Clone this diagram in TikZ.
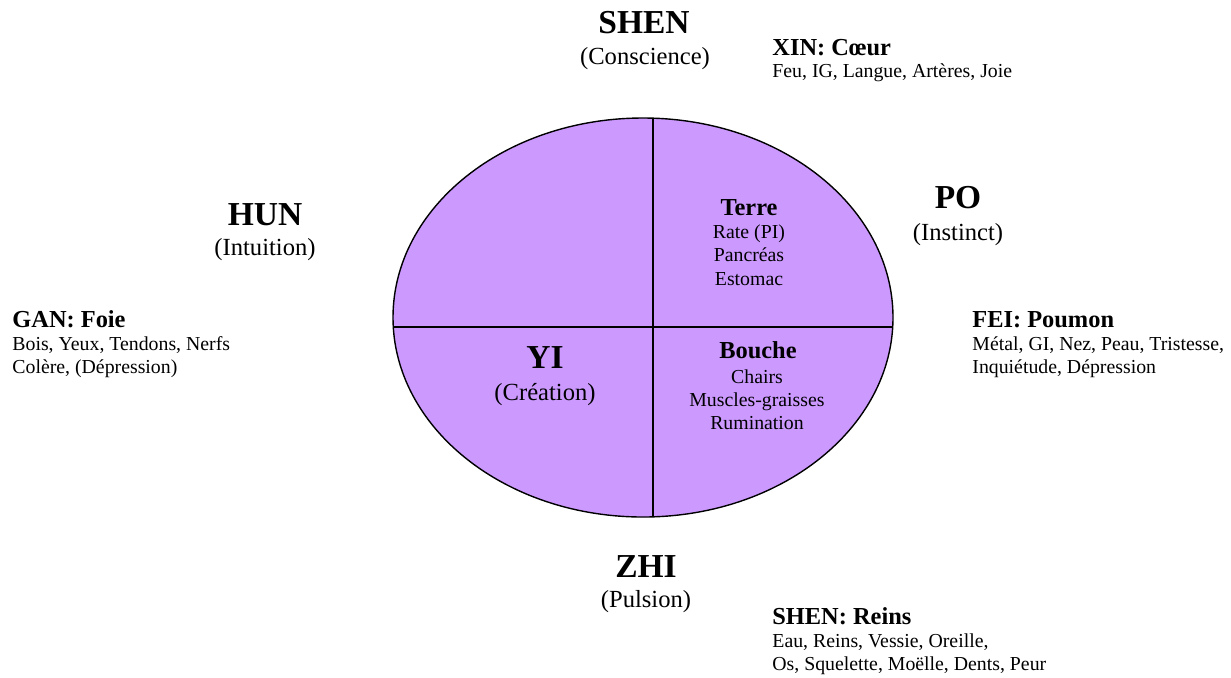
\documentclass[tikz,border=0pt]{standalone}
\usepackage{fontspec}
\setmainfont{Liberation Serif}
\usetikzlibrary{positioning}
\definecolor{lilas}{RGB}{204,153,255}

\begin{document}
\begin{tikzpicture}[x=0.5pt,y=-0.5pt,
    grand/.style={font=\fontsize{16.75}{20}\selectfont\bfseries,anchor=base,inner sep=0pt},
    moyen/.style={font=\fontsize{12.3}{15}\selectfont,anchor=base,inner sep=0pt},
    titre/.style={font=\fontsize{12.2}{15}\selectfont\bfseries,inner sep=0pt},
    petit/.style={font=\fontsize{9.9}{11.5}\selectfont,inner sep=0pt},
    trait/.style={line width=0.7pt}]
  \useasboundingbox (0,0) rectangle (1231,677);
  % le cercle et ses quatre parts
  \fill[lilas] (643,317.5) ellipse [x radius=250,y radius=199.5];
  \begin{scope}
    \clip (643,317.5) ellipse [x radius=250,y radius=199.5];
    \draw[trait] (653,100)--(653,540) (380,327)--(910,327);
  \end{scope}
  \draw[trait] (643,317.5) ellipse [x radius=250,y radius=199.5];
  % les cinq esprits
  \node[grand] (shen) at (644,33) {SHEN};
  \node[moyen] (conscience) at (645,64) {(Conscience)};
  \node[grand] (hun) at (265,225) {HUN};
  \node[moyen] (intuition) at (265,255) {(Intuition)};
  \node[grand] (po) at (958,208) {PO};
  \node[moyen] (instinct) at (958,240) {(Instinct)};
  \node[grand] (zhi) at (646,577) {ZHI};
  \node[moyen] (pulsion) at (646,607) {(Pulsion)};
  \node[grand] (yi) at (545,368) {YI};
  \node[moyen] (creation) at (545,400) {(Création)};
  % dans le cercle
  \node[titre,anchor=base] (terre) at (749,215) {Terre};
  \node[petit,anchor=base] (rate) at (749,238) {Rate (PI)};
  \node[petit,anchor=base] (pancreas) at (749,261.5) {Pancréas};
  \node[petit,anchor=base] (estomac) at (749,285) {Estomac};
  \node[titre,anchor=base] (bouche) at (758,358) {Bouche};
  \node[petit,anchor=base] (chairs) at (757,383) {Chairs};
  \node[petit,anchor=base] (muscles) at (757,406) {Muscles-graisses};
  \node[petit,anchor=base] (rumination) at (757,429) {Rumination};
  % les organes
  \node[titre,anchor=base west] (xin) at (772,55) {XIN: Cœur};
  \node[petit,anchor=base west] (feu) at (772,77) {Feu, IG, Langue, Artères, Joie};
  \node[titre,anchor=base west] (gan) at (12,327) {GAN: Foie};
  \node[petit,anchor=base west] (bois) at (12,350) {Bois, Yeux, Tendons, Nerfs};
  \node[petit,anchor=base west] (colere) at (12,373) {Colère, (Dépression)};
  \node[titre,anchor=base west] (fei) at (972,327) {FEI: Poumon};
  \node[petit,anchor=base west] (metal) at (972,350) {Métal, GI, Nez, Peau, Tristesse,};
  \node[petit,anchor=base west] (inquietude) at (972,373) {Inquiétude, Dépression};
  \node[titre,anchor=base west] (reins) at (772,624) {SHEN: Reins};
  \node[petit,anchor=base west] (eau) at (772,647) {Eau, Reins, Vessie, Oreille,};
  \node[petit,anchor=base west] (os) at (772,670) {Os, Squelette, Moëlle, Dents, Peur};
\end{tikzpicture}
\end{document}
